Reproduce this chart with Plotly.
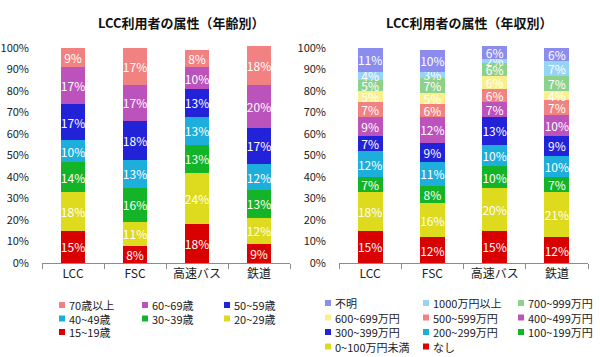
import plotly.graph_objects as go

W, H = 600, 357
FONT = "Noto Sans CJK JP"

categories = ["LCC", "FSC", "高速バス", "鉄道"]

# Age chart (bottom -> top)
age_labels = ["15~19歳", "20~29歳", "30~39歳", "40~49歳", "50~59歳", "60~69歳", "70歳以上"]
age_15_19 = [15, 8, 18, 9]
age_20_29 = [18, 11, 24, 12]
age_30_39 = [14, 16, 13, 13]
age_40_49 = [10, 13, 13, 12]
age_50_59 = [17, 18, 13, 17]
age_60_69 = [17, 17, 10, 20]
age_70_up = [9, 17, 8, 18]
age_series = [age_15_19, age_20_29, age_30_39, age_40_49, age_50_59, age_60_69, age_70_up]

# Income chart (bottom -> top)
inc_labels = ["なし", "0~100万円未満", "100~199万円", "200~299万円", "300~399万円",
              "400~499万円", "500~599万円", "600~699万円", "700~999万円", "1000万円以上", "不明"]
inc_none = [15, 12, 15, 12]
inc_0_100 = [18, 16, 20, 21]
inc_100_199 = [7, 8, 10, 7]
inc_200_299 = [12, 11, 10, 10]
inc_300_399 = [7, 9, 13, 9]
inc_400_499 = [9, 12, 7, 10]
inc_500_599 = [7, 6, 6, 7]
inc_600_699 = [5, 5, 6, 4]
inc_700_999 = [5, 7, 6, 7]
inc_1000_up = [4, 3, 2, 7]
inc_unknown = [11, 10, 6, 6]
inc_series = [inc_none, inc_0_100, inc_100_199, inc_200_299, inc_300_399, inc_400_499,
              inc_500_599, inc_600_699, inc_700_999, inc_1000_up, inc_unknown]

tick_vals = list(range(0, 101, 10))
tick_text = [f"{v}%" for v in tick_vals]

RED, YEL, GRN, CYA, BLU, PUR, SAL = "#D80000", "#DEDA1E", "#14B428", "#1EAEDC", "#2222D8", "#BC52BC", "#F28282"
LYEL, LGRN, LBLU, PERI = "#F8F08C", "#8CD28C", "#96D4F5", "#8C8CEE"
age_colors = [RED, YEL, GRN, CYA, BLU, PUR, SAL]
inc_colors = [RED, YEL, GRN, CYA, BLU, PUR, SAL, LYEL, LGRN, LBLU, PERI]

fig = go.Figure()
for name, vals, col in zip(age_labels, age_series, age_colors):
    fig.add_trace(go.Bar(x=categories, y=vals, name=name, marker=dict(color=col, line=dict(width=0)),
                         text=[f"{v}%" for v in vals], textposition="inside", insidetextanchor="middle",
                         textangle=0, textfont=dict(color="white", size=12, family=FONT),
                         width=0.4, xaxis="x", yaxis="y", showlegend=False))
for name, vals, col in zip(inc_labels, inc_series, inc_colors):
    fig.add_trace(go.Bar(x=categories, y=vals, name=name, marker=dict(color=col, line=dict(width=0)),
                         text=[f"{v}%" for v in vals], textposition="inside", insidetextanchor="middle",
                         textangle=0, textfont=dict(color="white", size=12, family=FONT),
                         width=0.4, xaxis="x2", yaxis="y2", showlegend=False))

ydom = [(H - 263) / H, (H - (263 - 102 * 2.15)) / H]
xax = dict(showline=True, linecolor="#8c8c8c", linewidth=1, ticks="outside", tickson="boundaries",
           ticklen=5, tickcolor="#8c8c8c", showgrid=False, zeroline=False, automargin=False,
           tickfont=dict(size=12, color="#222", family=FONT), ticklabelstandoff=0, fixedrange=True)
yax = dict(range=[0, 102], tickvals=tick_vals, ticktext=tick_text, showgrid=False, zeroline=False,
           showline=False, ticks="", tickfont=dict(size=11, color="#222", family=FONT),
           ticklabelstandoff=12, domain=ydom, automargin=False, fixedrange=True)

fig.update_layout(
    width=W, height=H, margin=dict(l=0, r=0, t=0, b=0),
    paper_bgcolor="white", plot_bgcolor="white", barmode="stack", bargap=0.6,
    uniformtext=dict(minsize=12, mode="show"),
    font=dict(family=FONT),
    xaxis=dict(domain=[42 / W, 290 / W], anchor="y", **xax),
    yaxis=dict(anchor="x", **yax),
    xaxis2=dict(domain=[339 / W, 588 / W], anchor="y2", **xax),
    yaxis2=dict(anchor="x2", **yax),
    showlegend=False,
)

ann = []
shapes = []
ann.append(dict(text="<b>LCC利用者の属性（年齢別）</b>", x=181 / W, y=1 - 22 / H, xref="paper", yref="paper",
                xanchor="center", yanchor="middle", showarrow=False, font=dict(size=13, color="#111", family=FONT)))
ann.append(dict(text="<b>LCC利用者の属性（年収別）</b>", x=469 / W, y=1 - 22 / H, xref="paper", yref="paper",
                xanchor="center", yanchor="middle", showarrow=False, font=dict(size=13, color="#111", family=FONT)))


def add_legend(labels, colors, col_x, row_y):
    items = list(zip(labels, colors))[::-1]
    for i, (lab, col) in enumerate(items):
        cx = col_x[i % 3]
        cy = row_y[i // 3]
        shapes.append(dict(type="rect", xref="paper", yref="paper",
                           x0=cx / W, x1=(cx + 6) / W, y0=1 - (cy + 3) / H, y1=1 - (cy - 3) / H,
                           fillcolor=col, line=dict(width=0)))
        ann.append(dict(text=lab, x=(cx + 8) / W, y=1 - cy / H, xref="paper", yref="paper",
                        xanchor="left", yanchor="middle", showarrow=False,
                        font=dict(size=11, color="#222", family=FONT)))


add_legend(age_labels, age_colors, [59, 142, 224], [305, 318.5, 332])
add_legend(inc_labels, inc_colors, [325, 423, 518], [303, 317.5, 332, 346.5])

fig.update_layout(annotations=ann, shapes=shapes)
fig.write_html("out.html", config={"displayModeBar": False, "staticPlot": True},
               post_script="document.body.style.margin='0';document.body.style.overflow='hidden';")
